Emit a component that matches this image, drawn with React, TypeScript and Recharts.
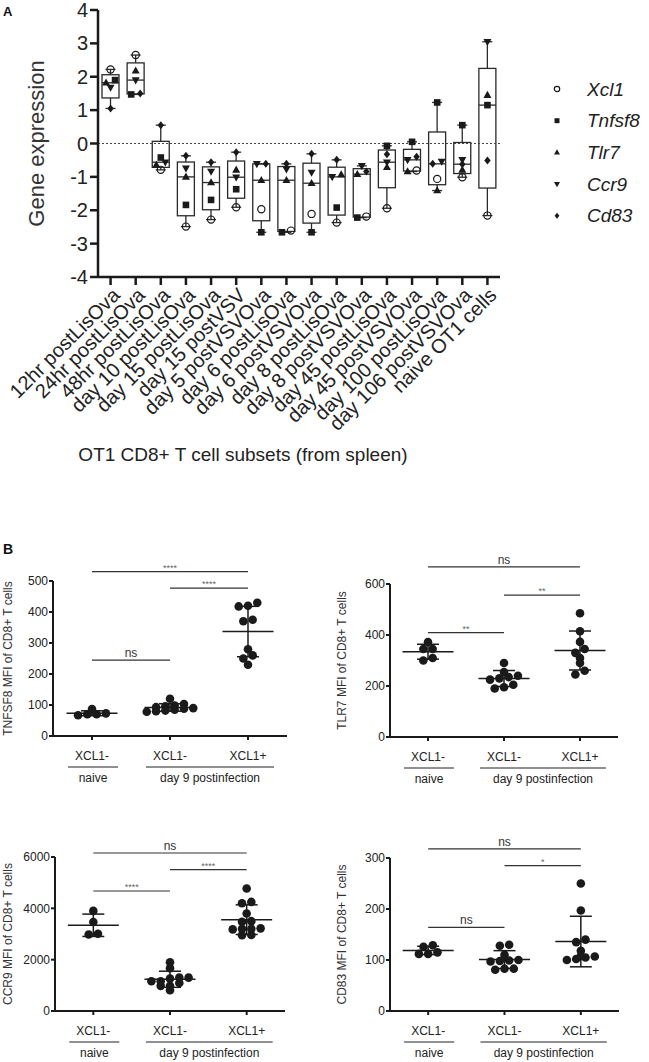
import React from 'react';
import { ComposedChart, ScatterChart, Bar, Scatter, XAxis, YAxis, ReferenceLine, ErrorBar } from 'recharts';

const FONT = '"Liberation Sans", Arial, Helvetica, sans-serif';
const INK = '#1a1a1a';

// ---------------- Panel A data ----------------
const categories = [
  '12hr postLisOva', '24hr postLisOva', '48hr postLisOva', 'day 10 postLisOva',
  'day 15 postLisOva', 'day 15 postVSV', 'day 5 postVSVOva', 'day 6 postLisOva',
  'day 6 postVSVOva', 'day 8 postLisOva', 'day 8 postVSVOva', 'day 45 postLisOva',
  'day 45 postVSVOva', 'day 100 postLisOva', 'day 106 postVSVOva', 'naive OT1 cells',
];
const xcl1 = [2.22, 2.65, -0.79, -2.49, -2.28, -1.91, -1.97, -2.61, -2.11, -2.37, -2.19, -1.94, -0.81, -1.06, -1.01, -2.16];
const tnfsf8 = [1.9, 1.47, -0.42, -1.84, -1.69, -1.37, -2.66, -2.66, -2.66, -1.92, -2.22, -0.07, 0.05, 1.23, 0.55, 1.15];
const tlr7 = [1.82, 2.18, -0.64, -1.0, -1.17, -0.79, -1.1, -1.1, -1.19, -0.93, -0.92, -0.71, -0.84, -1.41, -0.79, 1.45];
const ccr9 = [1.68, 1.9, -0.56, -0.74, -0.84, -1.01, -0.61, -0.77, -0.87, -1.0, -0.67, -0.56, -0.49, -0.54, -0.49, 3.05];
const cd83 = [1.05, 1.5, 0.55, -0.37, -0.56, -0.26, -0.61, -0.61, -0.31, -0.49, -0.84, -0.32, -0.4, -0.61, -0.62, -0.51];
const yTicksA = [-4, -3, -2, -1, 0, 1, 2, 3, 4];

const genes = [
  { key: 'xcl1', name: 'Xcl1', marker: 'circle', values: xcl1 },
  { key: 'tnfsf8', name: 'Tnfsf8', marker: 'square', values: tnfsf8 },
  { key: 'tlr7', name: 'Tlr7', marker: 'up', values: tlr7 },
  { key: 'ccr9', name: 'Ccr9', marker: 'down', values: ccr9 },
  { key: 'cd83', name: 'Cd83', marker: 'diamond', values: cd83 },
];

// ---------------- Panel B data ----------------
const xLabelsB = ['XCL1-', 'XCL1-', 'XCL1+'];
const groupLabelsB = [
  { label: 'naive', first: 0, last: 0 },
  { label: 'day 9 postinfection', first: 1, last: 2 },
];

const tnfsf8Naive = [87, 70, 67, 70, 73];
const tnfsf8D9Neg = [120, 103, 98, 96, 93, 90, 88, 85, 82, 80, 78];
const tnfsf8D9Pos = [430, 420, 418, 375, 370, 280, 260, 250, 230];

const tlr7Naive = [345, 345, 372, 310, 300];
const tlr7D9Neg = [290, 255, 240, 235, 230, 225, 205, 195, 190];
const tlr7D9Pos = [485, 415, 373, 345, 330, 310, 290, 260, 245];

const ccr9Naive = [3900, 3470, 2980, 3010];
const ccr9D9Neg = [1900, 1670, 1160, 1260, 1300, 1300, 1090, 1160, 980, 810, 980];
const ccr9D9Pos = [4770, 4250, 4200, 3800, 3500, 3480, 3220, 3200, 3180, 3200, 2960, 2950];

const cd83Naive = [129, 115, 112, 112, 126];
const cd83D9Neg = [130, 128, 110, 100, 99, 97, 98, 83, 81, 83];
const cd83D9Pos = [250, 197, 140, 135, 118, 105, 100, 102, 107, 108];

const tnfsf8Brackets = [
  { a: 0, b: 2, y: 530, text: '****' },
  { a: 1, b: 2, y: 477, text: '****' },
  { a: 0, b: 1, y: 245, text: 'ns' },
];
const tlr7Brackets = [
  { a: 0, b: 2, y: 667, text: 'ns' },
  { a: 1, b: 2, y: 556, text: '**' },
  { a: 0, b: 1, y: 409, text: '**' },
];
const ccr9Brackets = [
  { a: 0, b: 2, y: 6155, text: 'ns' },
  { a: 1, b: 2, y: 5508, text: '****' },
  { a: 0, b: 1, y: 4675, text: '****' },
];
const cd83Brackets = [
  { a: 0, b: 2, y: 318, text: 'ns' },
  { a: 1, b: 2, y: 285, text: '*' },
  { a: 0, b: 1, y: 164, text: 'ns' },
];

// ---------------- helpers ----------------
function quantile(sorted: number[], p: number) {
  const n = sorted.length;
  const h = (n + 1) * p;
  const lo = Math.max(1, Math.min(n, Math.floor(h)));
  const hi = Math.max(1, Math.min(n, Math.ceil(h)));
  const f = h - Math.floor(h);
  return sorted[lo - 1] + f * (sorted[hi - 1] - sorted[lo - 1]);
}
function mean(v: number[]) { return v.reduce((s, a) => s + a, 0) / v.length; }
function sdev(v: number[]) {
  const m = mean(v);
  return Math.sqrt(v.reduce((s, a) => s + (a - m) * (a - m), 0) / (v.length - 1));
}
// Prism-like row spreading of points that share (almost) the same value
function rowOffsets(vals: number[], pxPerUnit: number, thresh: number, spacing: number) {
  const idx = vals.map((_, i) => i).sort((a, b) => vals[a] - vals[b]);
  const out = new Array(vals.length).fill(0);
  let row: number[] = [];
  const flush = () => {
    row.forEach((k, j) => { out[k] = (j - (row.length - 1) / 2) * spacing; });
    row = [];
  };
  for (const k of idx) {
    if (row.length && (vals[k] - vals[row[0]]) * pxPerUnit > thresh) flush();
    row.push(k);
  }
  flush();
  return out;
}

function Marker({ kind, x, y, s = 1 }: { kind: string; x: number; y: number; s?: number }) {
  switch (kind) {
    case 'circle':
      return <circle cx={x} cy={y} r={3.6 * s} fill="none" stroke={INK} strokeWidth={1.2} />;
    case 'square':
      return <rect x={x - 3.3 * s} y={y - 3.3 * s} width={6.6 * s} height={6.6 * s} fill={INK} />;
    case 'up':
      return <polygon points={`${x},${y - 4.3 * s} ${x + 4 * s},${y + 2.8 * s} ${x - 4 * s},${y + 2.8 * s}`} fill={INK} />;
    case 'down':
      return <polygon points={`${x},${y + 4.3 * s} ${x + 4 * s},${y - 2.8 * s} ${x - 4 * s},${y - 2.8 * s}`} fill={INK} />;
    default:
      return <polygon points={`${x},${y - 4 * s} ${x + 3.2 * s},${y} ${x},${y + 4 * s} ${x - 3.2 * s},${y}`} fill={INK} />;
  }
}

// ---------------- Panel A ----------------
const A_W = 649, A_H = 470, A_TOP = 10, A_XH = 193, A_YW = 98, A_RIGHT = 149;
const A_PPU = (A_H - A_TOP - A_XH) / 8;

const rowsA = categories.map((cat, i) => {
  const vals = genes.map(g => g.values[i]);
  const s = [...vals].sort((a, b) => a - b);
  const offs = rowOffsets(vals, A_PPU, 4, 9);
  const off: Record<string, number> = {};
  const row: any = {
    cat, range: [s[0], s[s.length - 1]], min: s[0], max: s[s.length - 1],
    q1: quantile(s, 0.25), med: quantile(s, 0.5), q3: quantile(s, 0.75), off,
  };
  genes.forEach((g, gi) => { off[g.key] = offs[gi]; row[g.key] = g.values[i]; });
  return row;
});

const BoxShape = (props: any) => {
  const { x, y, width, height, payload } = props;
  if (!payload || x == null) return null;
  const top = Math.min(y, y + height), bot = Math.max(y, y + height);
  const span = payload.max - payload.min;
  const k = span > 0 ? (bot - top) / span : 0;
  const py = (v: number) => top + (payload.max - v) * k;
  const cx = x + width / 2;
  const st = { stroke: '#2a2a2a', strokeWidth: 1.3, fill: 'none' };
  return (
    <g>
      <line x1={cx} x2={cx} y1={py(payload.max)} y2={py(payload.q3)} {...st} />
      <line x1={cx} x2={cx} y1={py(payload.q1)} y2={py(payload.min)} {...st} />
      <line x1={cx - 5} x2={cx + 5} y1={py(payload.max)} y2={py(payload.max)} {...st} />
      <line x1={cx - 5} x2={cx + 5} y1={py(payload.min)} y2={py(payload.min)} {...st} />
      <rect x={x} y={py(payload.q3)} width={width} height={py(payload.q1) - py(payload.q3)} {...st} />
      <line x1={x} x2={x + width} y1={py(payload.med)} y2={py(payload.med)} {...st} />
    </g>
  );
};

const geneShape = (g: any) => (props: any) => {
  const { cx, cy, payload } = props;
  if (cx == null || cy == null) return null;
  return <Marker kind={g.marker} x={cx + (payload && payload.off ? payload.off[g.key] : 0)} y={cy} />;
};

const RotTick = (props: any) => {
  const { x, y, payload } = props;
  const ax = x + 2, ay = y + 1;
  return (
    <text x={ax} y={ay} transform={`rotate(-45 ${ax} ${ay})`} textAnchor="end" dy="0.6em"
      fontSize={20} fill="#222" fontFamily={FONT}>{payload.value}</text>
  );
};

function PanelA() {
  return (
    <ComposedChart width={A_W} height={A_H} data={rowsA} margin={{ top: A_TOP, right: A_RIGHT, bottom: 0, left: 0 }}>
      <XAxis dataKey="cat" interval={0} height={A_XH} tick={<RotTick />} tickSize={8}
        tickLine={{ stroke: INK, strokeWidth: 2.5 }} axisLine={{ stroke: INK, strokeWidth: 2.5 }}
        label={{
          content: (p: any) => {
            const vb = p.viewBox || { x: 0, width: 0 };
            return <text x={vb.x + vb.width / 2 - 56} y={461} textAnchor="middle" fontSize={19} fill="#222" fontFamily={FONT}>OT1 CD8+ T cell subsets (from spleen)</text>;
          },
        }} />
      <YAxis type="number" domain={[-4, 4]} ticks={yTicksA} width={A_YW} tickSize={8} tickMargin={2} interval={0}
        tick={{ fontSize: 20, fill: '#222', fontFamily: FONT }}
        tickLine={{ stroke: INK, strokeWidth: 2.5 }} axisLine={{ stroke: INK, strokeWidth: 2.5 }}
        label={{
          content: (p: any) => {
            const vb = p.viewBox || { y: 0, height: 0 };
            const cy = vb.y + vb.height / 2;
            return <text x={36} y={cy} transform={`rotate(-90 36 ${cy})`} textAnchor="middle" dominantBaseline="central" fontSize={22} fill="#333" fontFamily={FONT}>Gene expression</text>;
          },
        }} />
      <ReferenceLine y={0} stroke="#444" strokeDasharray="2 2" strokeWidth={1.2} />
      <Bar dataKey="range" barSize={17} shape={BoxShape} isAnimationActive={false} fill="none" />
      {genes.map(g => (
        <Scatter key={g.key} name={g.name} dataKey={g.key} shape={geneShape(g)} isAnimationActive={false} />
      ))}
    </ComposedChart>
  );
}

function LegendA() {
  return (
    <svg width={100} height={170} style={{ position: 'absolute', left: 548, top: 73 }}>
      {genes.map((g, i) => (
        <g key={g.key}>
          <Marker kind={g.marker} x={9} y={16 + i * 31.7} s={0.75} />
          <text x={39} y={16 + i * 31.7} dominantBaseline="central" fontSize={19} fontStyle="italic" fill="#222" fontFamily={FONT}>{g.name}</text>
        </g>
      ))}
    </svg>
  );
}

// ---------------- Panel B ----------------
type PanelSpec = {
  key: string; left: number; top: number; width: number; height: number; axisW: number; mTop: number; mRight: number; xH: number;
  yMax: number; yTicks: number[]; yLabel: string; labelX: number; groups: number[][]; brackets: { a: number; b: number; y: number; text: string }[];
};

const panelsB: PanelSpec[] = [
  { key: 'tnfsf8', left: 0, top: 540, width: 325, height: 260, axisW: 53, mTop: 41, mRight: 38, xH: 64, yMax: 500, yTicks: [0, 100, 200, 300, 400, 500], yLabel: 'TNFSF8 MFI of CD8+ T cells', labelX: 8, groups: [tnfsf8Naive, tnfsf8D9Neg, tnfsf8D9Pos], brackets: tnfsf8Brackets },
  { key: 'tlr7', left: 325, top: 540, width: 324, height: 260, axisW: 65, mTop: 44, mRight: 31, xH: 63, yMax: 600, yTicks: [0, 200, 400, 600], yLabel: 'TLR7 MFI of CD8+ T cells', labelX: 17, groups: [tlr7Naive, tlr7D9Neg, tlr7D9Pos], brackets: tlr7Brackets },
  { key: 'ccr9', left: 0, top: 815, width: 325, height: 247, axisW: 55, mTop: 42, mRight: 40, xH: 51, yMax: 6000, yTicks: [0, 2000, 4000, 6000], yLabel: 'CCR9 MFI of CD8+ T cells', labelX: 8, groups: [ccr9Naive, ccr9D9Neg, ccr9D9Pos], brackets: ccr9Brackets },
  { key: 'cd83', left: 325, top: 815, width: 324, height: 247, axisW: 65, mTop: 43, mRight: 30, xH: 51, yMax: 300, yTicks: [0, 100, 200, 300], yLabel: 'CD83 MFI of CD8+ T cells', labelX: 17, groups: [cd83Naive, cd83D9Neg, cd83D9Pos], brackets: cd83Brackets },
];

const DotShape = (props: any) => {
  const { cx, cy, payload } = props;
  if (cx == null) return null;
  return <circle cx={cx + ((payload && payload.dx) || 0)} cy={cy} r={4.3} fill={INK} />;
};
const MeanShape = (props: any) => {
  const { cx, cy } = props;
  if (cx == null) return null;
  return <line x1={cx - 25.5} x2={cx + 25.5} y1={cy} y2={cy} stroke={INK} strokeWidth={1.5} />;
};

function DotPanel({ p }: { p: PanelSpec }) {
  const plotH = p.height - p.mTop - p.xH;
  const plotW = p.width - p.axisW - p.mRight;
  const band = plotW / 3;
  const ppu = plotH / p.yMax;
  const points = p.groups.flatMap((vals, gi) => {
    const off = rowOffsets(vals, ppu, 4, 9.3);
    return vals.map((v, i) => ({ x: gi, y: v, dx: off[i] }));
  });
  const means = p.groups.map((vals, gi) => ({ x: gi, y: mean(vals), sd: sdev(vals) }));
  const XTick = (props: any) => {
    const { x, y, payload, index } = props;
    const g = groupLabelsB.find(gg => gg.first === index);
    const x1 = x - 24;
    const x2 = g ? x + (g.last - g.first) * band + 26 : x;
    return (
      <g fontFamily={FONT}>
        <text x={x} y={y + 20} textAnchor="middle" fontSize={12} fill="#222">{xLabelsB[payload.value]}</text>
        {g && (
          <g>
            <line x1={x1} x2={x2} y1={y + 27} y2={y + 27} stroke="#222" strokeWidth={1} />
            <text x={(x1 + x2) / 2} y={y + 42} textAnchor="middle" fontSize={12} fill="#222">{g.label}</text>
          </g>
        )}
      </g>
    );
  };
  return (
    <ScatterChart width={p.width} height={p.height} margin={{ top: p.mTop, right: p.mRight, bottom: 0, left: 0 }}>
      <XAxis type="number" dataKey="x" domain={[-0.5, 2.5]} ticks={[0, 1, 2]} interval={0} height={p.xH}
        tickSize={4} tickMargin={0} tick={<XTick />} allowDataOverflow
        tickLine={{ stroke: INK, strokeWidth: 2 }} axisLine={{ stroke: INK, strokeWidth: 2 }} />
      <YAxis type="number" dataKey="y" domain={[0, p.yMax]} ticks={p.yTicks} interval={0} width={p.axisW}
        tickSize={4} tickMargin={1} allowDataOverflow
        tick={{ fontSize: 12, fill: '#222', fontFamily: FONT }}
        tickLine={{ stroke: INK, strokeWidth: 2 }} axisLine={{ stroke: INK, strokeWidth: 2 }}
        label={{
          content: (lp: any) => {
            const vb = lp.viewBox || { y: 0, height: 0 };
            const cy = vb.y + vb.height / 2;
            return <text x={p.labelX} y={cy} transform={`rotate(-90 ${p.labelX} ${cy})`} textAnchor="middle" dominantBaseline="central" fontSize={12} fill="#333" fontFamily={FONT}>{p.yLabel}</text>;
          },
        }} />
      {p.brackets.map((b, i) => (
        <ReferenceLine key={i} segment={[{ x: b.a, y: b.y }, { x: b.b, y: b.y }]} ifOverflow="visible"
          stroke="#333" strokeWidth={1.2}
          label={{ value: b.text, position: 'top', offset: b.text === 'ns' ? 3 : 1, fontSize: b.text === 'ns' ? 12 : 9, fill: b.text === 'ns' ? '#333' : '#666', fontFamily: FONT }} />
      ))}
      <Scatter data={points} shape={DotShape} isAnimationActive={false} />
      <Scatter data={means} shape={MeanShape} isAnimationActive={false}>
        <ErrorBar dataKey="sd" direction="y" width={11} stroke={INK} strokeWidth={1.5} />
      </Scatter>
    </ScatterChart>
  );
}

export default function App() {
  return (
    <div style={{ position: 'absolute', left: 0, top: 0, width: 649, height: 1062, background: '#fff', overflow: 'hidden', fontFamily: FONT }}>
      <div style={{ position: 'absolute', left: 0, top: 0 }}><PanelA /></div>
      <LegendA />
      {panelsB.map(p => (
        <div key={p.key} style={{ position: 'absolute', left: p.left, top: p.top }}><DotPanel p={p} /></div>
      ))}
      <svg width={649} height={1062} style={{ position: 'absolute', left: 0, top: 0, pointerEvents: 'none' }}>
        <text x={3} y={15.5} fontSize={13} fontWeight="bold" fill="#111" fontFamily={FONT}>A</text>
        <text x={3} y={553.5} fontSize={14} fontWeight="bold" fill="#111" fontFamily={FONT}>B</text>
      </svg>
    </div>
  );
}
